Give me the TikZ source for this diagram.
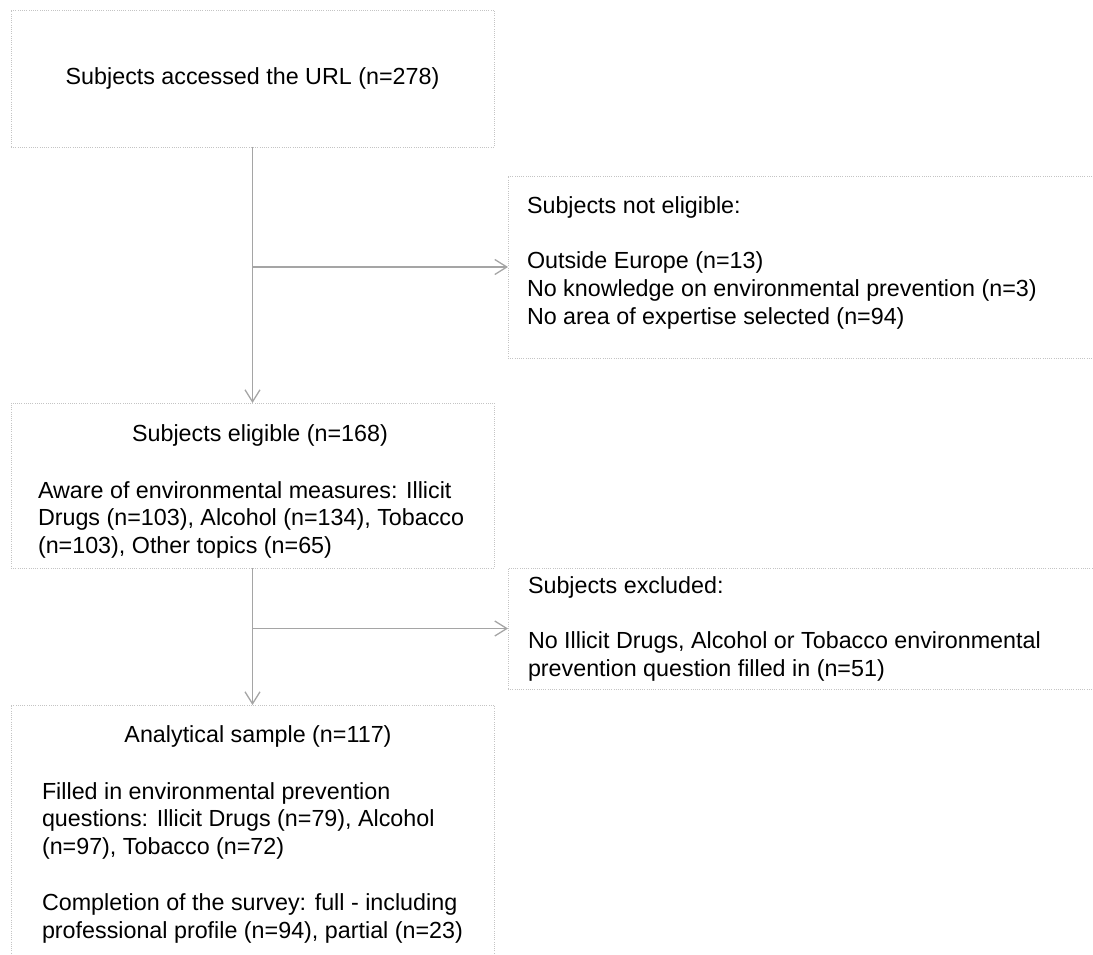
\documentclass[tikz,border=0pt]{standalone}
\usepackage{fontspec}
\setmainfont{Liberation Sans}
\usetikzlibrary{arrows.meta}
\definecolor{boxline}{HTML}{C4C4C4}
\definecolor{arrowline}{HTML}{A5A5A5}
\newcommand{\fl}{\rule{0pt}{20pt}}
\tikzset{
  box/.style={draw=boxline, line width=0.9pt, dash pattern=on 0.9pt off 1.3pt,
    inner sep=0pt, outer sep=0pt, anchor=north west,
    font=\fontsize{23.3pt}{27.8pt}\selectfont},
  txt/.style={inner sep=0pt, outer sep=0pt, anchor=north west, align=left,
    font=\fontsize{23.3pt}{27.8pt}\selectfont},
  ttl/.style={inner sep=0pt, outer sep=0pt, anchor=base,
    font=\fontsize{23.3pt}{27.8pt}\selectfont},
  flow/.style={draw=arrowline, line width=1.4pt,
    -{Straight Barb[length=12pt,width=15pt,line width=1.3pt]}},
}
\begin{document}
\begin{tikzpicture}[x=1pt,y=-1pt]
\useasboundingbox (0,0) rectangle (1093,955);
\clip (0,0) rectangle (1093,955);
% boxes
\node[box, minimum width=483pt, minimum height=137pt] (b1) at (11,10) {Subjects accessed the URL (n=278)};
\node[box, minimum width=620pt, minimum height=182pt] (b2) at (508,176) {};
\node[box, minimum width=483pt, minimum height=165pt] (b3) at (11,403) {};
\node[box, minimum width=620pt, minimum height=121pt] (b4) at (508,568) {};
\node[box, minimum width=483pt, minimum height=300pt] (b5) at (11,705) {};
% texts
\node[txt] (t2) at (527,193) {\fl Subjects not eligible:\\[27.8pt]
  Outside Europe (n=13)\\
  No knowledge on environmental prevention (n=3)\\
  No area of expertise selected (n=94)};
\node[ttl] (t3) at (260,441) {Subjects eligible (n=168)};
\node[txt] (t3b) at (38,478) {\fl Aware of environmental measures: Illicit\\
  Drugs (n=103), Alcohol (n=134), Tobacco\\
  (n=103), Other topics (n=65)};
\node[txt] (t4) at (528,573) {\fl Subjects excluded:\\[27.8pt]
  No Illicit Drugs, Alcohol or Tobacco environmental\\
  prevention question filled in (n=51)};
\node[ttl] (t5) at (258,742) {Analytical sample (n=117)};
\node[txt] (t5b) at (42,779) {\fl Filled in environmental prevention\\
  questions: Illicit Drugs (n=79), Alcohol\\
  (n=97), Tobacco (n=72)\\[27.8pt]
  Completion of the survey: full - including\\
  professional profile (n=94), partial (n=23)};
% connectors
\coordinate (j1) at (b1.south |- b2.west);
\coordinate (j2) at (b3.south |- b4.west);
\draw[flow] (b1.south) -- (b3.north);
\draw[flow] (j1) -- (b2.west);
\draw[flow] (b3.south) -- (b5.north);
\draw[flow] (j2) -- (b4.west);
\end{tikzpicture}
\end{document}
